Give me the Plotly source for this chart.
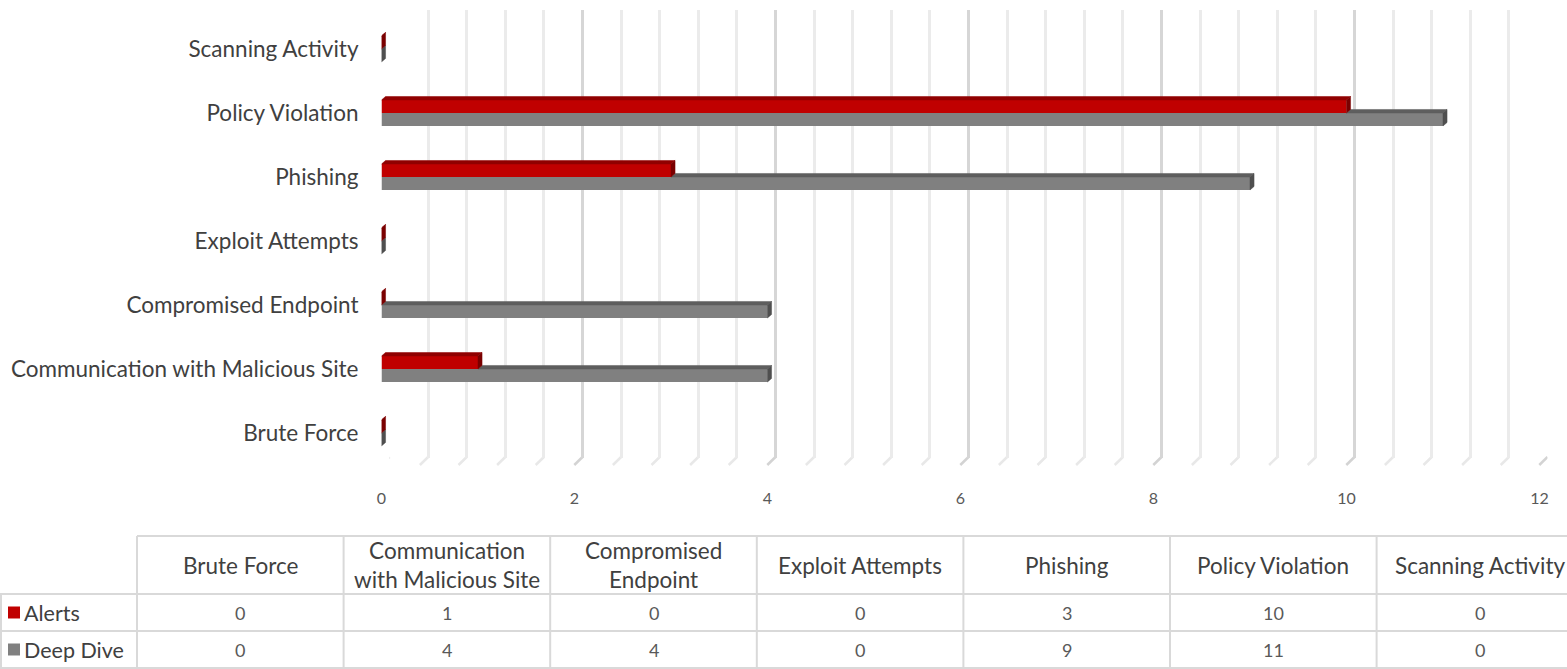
import plotly.graph_objects as go

# ---------------- data ----------------
categories = ["Brute Force", "Communication with Malicious Site", "Compromised Endpoint",
              "Exploit Attempts", "Phishing", "Policy Violation", "Scanning Activity"]
table_headers = ["Brute Force", "Communication<br>with Malicious Site", "Compromised<br>Endpoint",
                 "Exploit Attempts", "Phishing", "Policy Violation", "Scanning Activity"]
alerts = [0, 1, 0, 0, 3, 10, 0]
deep_dive = [0, 4, 4, 0, 9, 11, 0]
series_names = ["Alerts", "Deep Dive"]
x_ticks = [0, 2, 4, 6, 8, 10, 12]
x_max = 12
major_step = 2
minor_step = 0.4

# ---------------- style ----------------
W, H = 1567, 669
FONT = "Lato"
RED, RED_TOP, RED_SIDE = "#C00000", "#900000", "#7A0000"
GRAY, GRAY_TOP, GRAY_SIDE = "#808080", "#5E5E5E", "#4F4F4F"
TXT = "#404040"
LINE = "#D9D9D9"

def px(x):
    return x / W

def py(y):
    return 1 - y / H

BW = 0.203      # bar thickness (category units)
DX = 0.042      # 3D depth along x (value units)
DY = 0.055      # 3D depth along y (category units)

idx = list(range(len(categories)))

fig = go.Figure()

# gridline subplot (back wall), drawn first
fig.add_trace(go.Scatter(x=[], y=[], xaxis="x", yaxis="y", showlegend=False, hoverinfo="skip"))


def poly_trace(polys, color):
    xs, ys = [], []
    for p in polys:
        for (a, b) in p + [p[0]]:
            xs.append(a)
            ys.append(b)
        xs.append(None)
        ys.append(None)
    return go.Scatter(x=xs, y=ys, mode="lines", fill="toself", fillcolor=color,
                      line=dict(color=color, width=0.5), xaxis="x2", yaxis="y2",
                      showlegend=False, hoverinfo="skip")


fig.add_trace(go.Bar(x=deep_dive, y=idx, orientation="h", width=BW, offset=-BW,
                     marker=dict(color=GRAY, line=dict(width=0)), name=series_names[1],
                     xaxis="x2", yaxis="y2", showlegend=False))
fig.add_trace(go.Bar(x=alerts, y=idx, orientation="h", width=BW, offset=0,
                     marker=dict(color=RED, line=dict(width=0)), name=series_names[0],
                     xaxis="x2", yaxis="y2", showlegend=False))

g_top, g_side, r_top, r_side = [], [], [], []
for c, a, d in zip(idx, alerts, deep_dive):
    if d > a:
        g_top.append([(a, c), (d, c), (d + DX, c + DY), (a + DX, c + DY)])
    g_side.append([(d, c - BW), (d, c), (d + DX, c + DY), (d + DX, c - BW + DY)])
    r_top.append([(0, c + BW), (a, c + BW), (a + DX, c + BW + DY), (DX, c + BW + DY)])
    r_side.append([(a, c), (a, c + BW), (a + DX, c + BW + DY), (a + DX, c + DY)])

fig.add_trace(poly_trace(g_top, GRAY_TOP))
fig.add_trace(poly_trace(g_side, GRAY_SIDE))
fig.add_trace(poly_trace(r_top, RED_TOP))
fig.add_trace(poly_trace(r_side, RED_SIDE))

shapes = []

# feet of the back-wall gridlines (3D floor edge)
n_minor = int(round(x_max / minor_step))
for k in range(n_minor + 1):
    xv = k * minor_step
    is_major = abs(xv / major_step - round(xv / major_step)) < 1e-6
    shapes.append(dict(type="line", xref="x", yref="paper", x0=xv, x1=xv - 0.085,
                       y0=py(457), y1=py(465), layer="below",
                       line=dict(color="#D3D3D3" if is_major else "#E8E8E8", width=2.5)))

# ---------------- table (shapes + annotations) ----------------
col0 = 137.0
colw = 206.6
ncol = len(categories)
right = col0 + ncol * colw
y_head_top, y_r1, y_r2, y_bot = 536, 594, 631, 668


def hline(x0, x1, y):
    shapes.append(dict(type="line", xref="paper", yref="paper", x0=px(x0), x1=px(x1),
                       y0=py(y), y1=py(y), line=dict(color=LINE, width=2)))


def vline(x, y0, y1):
    shapes.append(dict(type="line", xref="paper", yref="paper", x0=px(x), x1=px(x),
                       y0=py(y0), y1=py(y1), line=dict(color=LINE, width=2)))


hline(col0, right, y_head_top)
hline(0, right, y_r1)
hline(0, right, y_r2)
hline(0, right, y_bot)
vline(1, y_r1, y_bot)
for i in range(ncol + 1):
    vline(col0 + i * colw, y_head_top, y_bot)

annotations = []
for i, h in enumerate(table_headers):
    cx = col0 + (i + 0.5) * colw
    annotations.append(dict(text=h, x=px(cx), y=py((y_head_top + y_r1) / 2), xref="paper",
                            yref="paper", showarrow=False, xanchor="center", yanchor="middle",
                            font=dict(family=FONT, size=22.5, color=TXT)))
    for vals, ya, yb in ((alerts, y_r1, y_r2), (deep_dive, y_r2, y_bot)):
        annotations.append(dict(text=str(vals[i]), x=px(cx), y=py((ya + yb) / 2), xref="paper",
                                yref="paper", showarrow=False, xanchor="center", yanchor="middle",
                                font=dict(family=FONT, size=18, color="#595959")))

for name, col, ya, yb in ((series_names[0], RED, y_r1, y_r2), (series_names[1], GRAY, y_r2, y_bot)):
    ym = (ya + yb) / 2
    shapes.append(dict(type="rect", xref="paper", yref="paper", x0=px(8), x1=px(20),
                       y0=py(ym + 6), y1=py(ym - 6), fillcolor=col, line=dict(width=0)))
    annotations.append(dict(text=name, x=px(22), y=py(ym), xref="paper", yref="paper",
                            showarrow=False, xanchor="left", yanchor="middle",
                            font=dict(family=FONT, size=21.5, color=TXT)))

# ---------------- layout ----------------
fig.update_layout(
    width=W, height=H,
    margin=dict(l=0, r=0, t=0, b=0),
    paper_bgcolor="white", plot_bgcolor="rgba(0,0,0,0)",
    barmode="overlay",
    showlegend=False,
    font=dict(family=FONT, color=TXT),
    xaxis=dict(domain=[px(389.5), px(1547.5)], range=[0, x_max], dtick=major_step, tick0=0,
               showgrid=True, gridcolor="#D6D6D6", gridwidth=2.5,
               minor=dict(dtick=minor_step, tick0=0, showgrid=True, gridcolor="#EBEBEB", gridwidth=2.5),
               showticklabels=False, zeroline=False, showline=False, ticks="", anchor="y",
               automargin=False),
    yaxis=dict(domain=[py(458), py(10)], range=[0, 1], showgrid=False, zeroline=False,
               showticklabels=False, showline=False, ticks="", anchor="x", automargin=False),
    xaxis2=dict(domain=[px(381.5), px(1539.5)], range=[0, x_max], tickvals=x_ticks,
                showgrid=False, zeroline=False, showline=False, ticks="",
                tickfont=dict(family=FONT, size=16, color="#595959"),
                ticklabelstandoff=22, anchor="y2", automargin=False),
    yaxis2=dict(domain=[py(465), py(17)], range=[-0.5, len(categories) - 0.5],
                tickvals=idx, ticktext=categories, showgrid=False, zeroline=False,
                showline=False, ticks="", tickfont=dict(family=FONT, size=22.5, color=TXT),
                ticklabelstandoff=22, anchor="x2", automargin=False),
    shapes=shapes,
    annotations=annotations,
)

fig.write_html("out.html")
